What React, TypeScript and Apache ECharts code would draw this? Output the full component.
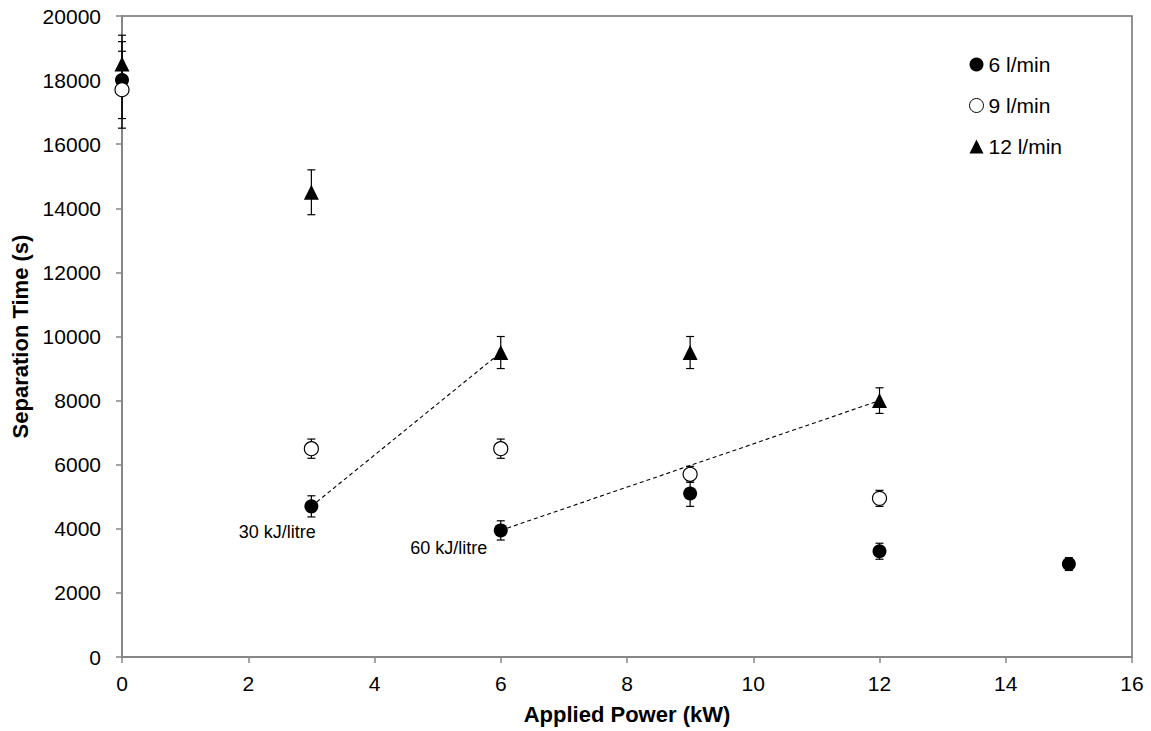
import React, { useEffect, useRef } from "react";
import * as echarts from "echarts";

const power6 = [0, 3, 6, 9, 12, 15];
const time6 = [18000, 4700, 3950, 5100, 3300, 2900];
const err6 = [1200, 330, 300, 400, 250, 200];

const power9 = [0, 3, 6, 9, 12];
const time9 = [17700, 6500, 6500, 5700, 4950];
const err9 = [1200, 300, 300, 250, 250];

const power12 = [0, 3, 6, 9, 12];
const time12 = [18500, 14500, 9500, 9500, 8000];
const err12 = [900, 700, 500, 500, 400];

const seriesNames = ["6 l/min", "9 l/min", "12 l/min"];
const annotationTexts = ["30 kJ/litre", "60 kJ/litre"];

const FONT = '"Liberation Sans", Arial, sans-serif';

export default function App() {
  const ref = useRef<HTMLDivElement>(null);
  useEffect(() => {
    document.body.style.margin = "0";
    if (!ref.current) return;
    const chart = echarts.init(ref.current, undefined, { renderer: "svg" });

    const pts = (xs: number[], ys: number[]) => xs.map((x, i) => [x, ys[i]]);
    const errData = [
      ...power6.map((x, i) => [x, time6[i] - err6[i], time6[i] + err6[i]]),
      ...power9.map((x, i) => [x, time9[i] - err9[i], time9[i] + err9[i]]),
      ...power12.map((x, i) => [x, time12[i] - err12[i], time12[i] + err12[i]]),
    ];

    // dashed iso-energy lines
    const line30 = [
      [power6[1], time6[1]],
      [power12[2], time12[2]],
    ];
    const line60 = [
      [power6[2], time6[2]],
      [power12[4], time12[4]],
    ];

    const annLabel = (text: string, pos: number[]) => ({
      show: true,
      formatter: text,
      position: pos,
      align: "right",
      verticalAlign: "middle",
      fontSize: 18,
      color: "#000",
      opacity: 1,
      fontFamily: FONT,
    });

    const option: any = {
      animation: false,
      backgroundColor: "#fff",
      textStyle: { fontFamily: FONT, color: "#000" },
      grid: {
        left: 122,
        right: 19,
        top: 16,
        bottom: 74,
        show: true,
        borderColor: "#6e6e6e",
        borderWidth: 1.5,
        backgroundColor: "transparent",
      },
      legend: {
        orient: "vertical",
        left: 964,
        top: 49,
        itemWidth: 14,
        itemHeight: 14,
        itemGap: 20,
        textStyle: { fontSize: 21, fontFamily: FONT, color: "#000" },
        data: [
          { name: seriesNames[0], icon: "circle" },
          { name: seriesNames[1], icon: "circle", itemStyle: { borderWidth: 1 } },
          { name: seriesNames[2], icon: "triangle" },
        ],
      },
      xAxis: {
        type: "value",
        min: 0,
        max: 16,
        interval: 2,
        name: "Applied Power (kW)",
        nameLocation: "middle",
        nameGap: 46,
        nameTextStyle: { fontSize: 22, fontWeight: "bold", fontFamily: FONT, color: "#000" },
        axisLine: { onZero: false, lineStyle: { color: "#868686", width: 2 } },
        axisTick: { show: true, length: 6, lineStyle: { color: "#868686", width: 1.5 } },
        axisLabel: { fontSize: 21, margin: 16, color: "#000", fontFamily: FONT },
        splitLine: { show: false },
      },
      yAxis: {
        type: "value",
        min: 0,
        max: 20000,
        interval: 2000,
        name: "Separation Time (s)",
        nameLocation: "middle",
        nameGap: 87,
        nameTextStyle: { fontSize: 22, fontWeight: "bold", fontFamily: FONT, color: "#000" },
        axisLine: { show: true, onZero: false, lineStyle: { color: "#868686", width: 2 } },
        axisTick: { show: true, length: 6, lineStyle: { color: "#868686", width: 1.5 } },
        axisLabel: {
          fontSize: 21,
          margin: 21,
          color: "#000",
          fontFamily: FONT,
          formatter: (v: number) => String(v),
        },
        splitLine: { show: false },
      },
      series: [
        {
          type: "line",
          data: line30,
          symbol: "none",
          silent: true,
          z: 1,
          lineStyle: { color: "#000", width: 1.1, type: [4, 3] },
        },
        {
          type: "line",
          data: line60,
          symbol: "none",
          silent: true,
          z: 1,
          lineStyle: { color: "#000", width: 1.1, type: [4, 3] },
        },
        {
          type: "custom",
          z: 2,
          silent: true,
          data: errData,
          renderItem: (params: any, api: any) => {
            const x = api.value(0);
            const lo = api.coord([x, api.value(1)]);
            const hi = api.coord([x, api.value(2)]);
            const w = 4;
            const style = { stroke: "#000", lineWidth: 1.2 };
            return {
              type: "group",
              children: [
                { type: "line", shape: { x1: lo[0], y1: lo[1], x2: hi[0], y2: hi[1] }, style },
                { type: "line", shape: { x1: lo[0] - w, y1: lo[1], x2: lo[0] + w, y2: lo[1] }, style },
                { type: "line", shape: { x1: hi[0] - w, y1: hi[1], x2: hi[0] + w, y2: hi[1] }, style },
              ],
            };
          },
        },
        {
          name: seriesNames[2],
          type: "scatter",
          z: 3,
          data: pts(power12, time12),
          symbol: "triangle",
          symbolSize: 15,
          itemStyle: { color: "#000", opacity: 1 },
        },
        {
          name: seriesNames[0],
          type: "scatter",
          z: 4,
          data: pts(power6, time6),
          symbol: "circle",
          symbolSize: 14,
          itemStyle: { color: "#000", opacity: 1 },
        },
        {
          name: seriesNames[1],
          type: "scatter",
          z: 5,
          data: pts(power9, time9),
          symbol: "circle",
          symbolSize: 14,
          itemStyle: { color: "#fff", borderColor: "#000", borderWidth: 1.2, opacity: 1 },
        },
        {
          type: "scatter",
          z: 6,
          silent: true,
          symbolSize: 1,
          itemStyle: { color: "rgba(255,255,255,0)" },
          data: [
            { value: line30[0], label: annLabel(annotationTexts[0], [5, 26]) },
            { value: line60[0], label: annLabel(annotationTexts[1], [-13, 18]) },
          ],
        },
      ],
    };
    chart.setOption(option);
    return () => chart.dispose();
  }, []);
  return <div ref={ref} style={{ width: 1151, height: 731 }} />;
}
